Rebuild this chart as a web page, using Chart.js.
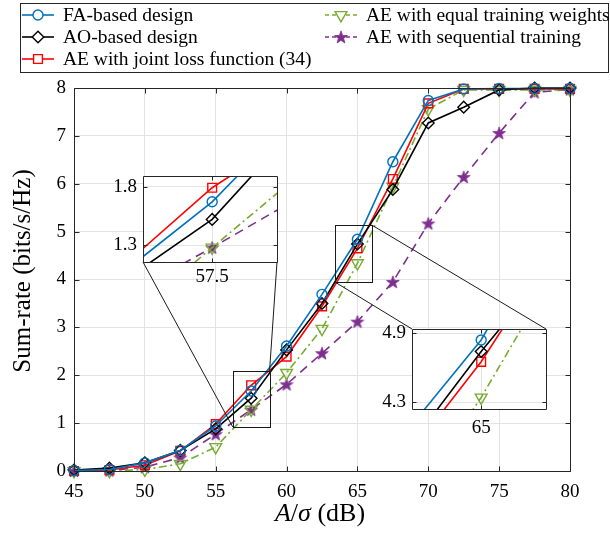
<!DOCTYPE html>
<html>
<head>
<meta charset="utf-8">
<script src="https://cdn.jsdelivr.net/npm/chart.js@4.4.3/dist/chart.umd.min.js"></script>
<style>
  html, body { margin: 0; padding: 0; background: #fff; }
  #wrap { position: relative; width: 610px; height: 535px; }
  #wrap canvas { position: absolute; left: 0; top: 0; }
</style>
</head>
<body>
<div id="wrap">
  <canvas id="main" width="610" height="535"></canvas>
  <canvas id="zoomLow" width="610" height="535"></canvas>
  <canvas id="zoomHigh" width="610" height="535"></canvas>
</div>
<script>
// A/sigma in dB
const snrDb = [45, 47.5, 50, 52.5, 55, 57.5, 60, 62.5, 65, 67.5, 70, 72.5, 75, 77.5, 80];

// sum-rate in bits/s/Hz
const faRate    = [0.01, 0.03, 0.17, 0.43, 0.94, 1.67, 2.61, 3.69, 4.84, 6.46, 7.74, 7.98, 7.99, 7.99, 7.99];
const aoRate    = [0.02, 0.06, 0.17, 0.43, 0.88, 1.52, 2.53, 3.50, 4.74, 5.88, 7.27, 7.60, 7.96, 8.00, 8.00];
const jointRate = [0.00, 0.02, 0.12, 0.42, 0.98, 1.79, 2.39, 3.44, 4.65, 6.10, 7.68, 7.98, 7.98, 7.98, 7.98];
const equalRate = [0.00, 0.00, 0.03, 0.15, 0.50, 1.28, 2.05, 2.97, 4.34, 5.94, 7.56, 7.96, 7.96, 7.96, 7.96];
const seqRate   = [0.00, 0.01, 0.08, 0.28, 0.77, 1.28, 1.81, 2.46, 3.12, 3.95, 5.17, 6.14, 7.06, 7.91, 7.97];

const seriesNames = [
  'FA-based design',
  'AO-based design',
  'AE with joint loss function (34)',
  'AE with equal training weights',
  'AE with sequential training'
];

const xTickStep = 5;
const yTickStep = 1;

// zoom windows: region marked on the main axes, and the range shown in each inset
const lowZoomMark  = { x0: 56.2, x1: 58.8, y0: 0.92, y1: 2.09 };
const highZoomMark = { x0: 63.4, x1: 66.0, y0: 3.95, y1: 5.14 };
const lowInsetX  = [55.9, 59.0];
const lowInsetY  = [1.157, 1.89];
const highInsetX = [63.4, 66.5];
const highInsetY = [4.24, 4.935];
const lowInsetXTicks  = [57.5];
const lowInsetYTicks  = [1.3, 1.8];
const highInsetXTicks = [65];
const highInsetYTicks = [4.3, 4.9];

const BLUE = '#0072BD', GREEN = '#77AC30', PURPLE = '#7E2F8E', RED = '#FF0000', BLACK = '#000000';
const SERIF = '"Liberation Serif", "DejaVu Serif", serif';
const AXIS = '#262626';

function starImage(color) {
  const c = document.createElement('canvas');
  c.width = 16; c.height = 16;
  const g = c.getContext('2d');
  g.beginPath();
  for (let i = 0; i < 10; i++) {
    const r = i % 2 ? 2.7 : 6.7;
    const a = -Math.PI / 2 + i * Math.PI / 5;
    const px = 8 + r * Math.cos(a), py = 8.6 + r * Math.sin(a);
    if (i) g.lineTo(px, py); else g.moveTo(px, py);
  }
  g.closePath();
  g.fillStyle = color;
  g.fill();
  g.strokeStyle = color;
  g.lineWidth = 0.8;
  g.stroke();
  return c;
}
const starMark = starImage(PURPLE);

function toPoints(vals) {
  return snrDb.map((x, i) => ({ x, y: vals[i] }));
}

function makeDatasets(clip) {
  const base = {
    borderWidth: 1.6,
    pointBorderWidth: 1.4,
    pointBackgroundColor: 'rgba(0,0,0,0)',
    tension: 0,
    clip: clip
  };
  return [
    Object.assign({}, base, { label: seriesNames[0], data: toPoints(faRate), borderColor: BLUE,
      pointBorderColor: BLUE, pointStyle: 'circle', pointRadius: 5 }),
    Object.assign({}, base, { label: seriesNames[1], data: toPoints(aoRate), borderColor: BLACK,
      pointBorderColor: BLACK, pointStyle: 'rectRot', pointRadius: 5.8 }),
    Object.assign({}, base, { label: seriesNames[2], data: toPoints(jointRate), borderColor: RED,
      pointBorderColor: RED, pointStyle: 'rect', pointRadius: 6.2 }),
    Object.assign({}, base, { label: seriesNames[3], data: toPoints(equalRate), borderColor: GREEN,
      pointBorderColor: GREEN, pointStyle: 'triangle', pointRotation: 180, pointRadius: 6.8,
      borderDash: [8, 3.5, 2, 3.5] }),
    Object.assign({}, base, { label: seriesNames[4], data: toPoints(seqRate), borderColor: PURPLE,
      pointBorderColor: PURPLE, pointStyle: starMark, pointRadius: 7,
      borderDash: [9, 6] })
  ];
}

// box around the axes with inward tick marks on every side
const framePlugin = {
  id: 'frame',
  beforeDraw(chart, args, opts) {
    if (!opts.fill) return;
    const { ctx, chartArea: a } = chart;
    ctx.save();
    ctx.fillStyle = '#fff';
    ctx.fillRect(a.left, a.top, a.right - a.left, a.bottom - a.top);
    ctx.restore();
  },
  afterDatasetsDraw(chart, args, opts) {
    const { ctx, chartArea: a, scales: { x, y } } = chart;
    const L = opts.tickLen || 5;
    const l = Math.round(a.left) + 0.5, r = Math.round(a.right) + 0.5;
    const t = Math.round(a.top) + 0.5, b = Math.round(a.bottom) + 0.5;
    ctx.save();
    ctx.strokeStyle = AXIS;
    ctx.lineWidth = 1;
    ctx.beginPath();
    x.ticks.forEach(tk => {
      const px = Math.round(x.getPixelForValue(tk.value)) + 0.5;
      ctx.moveTo(px, b); ctx.lineTo(px, b - L);
      ctx.moveTo(px, t); ctx.lineTo(px, t + L);
    });
    y.ticks.forEach(tk => {
      const py = Math.round(y.getPixelForValue(tk.value)) + 0.5;
      ctx.moveTo(l, py); ctx.lineTo(l + L, py);
      ctx.moveTo(r, py); ctx.lineTo(r - L, py);
    });
    ctx.rect(l, t, r - l, b - t);
    ctx.stroke();
    ctx.restore();
  }
};

// inset boxes in canvas pixels
const mainBox      = { l: 74, t: 88, r: 570, b: 471 };
const lowInsetBox  = { l: 143, t: 176, r: 277, b: 262 };
const highInsetBox = { l: 412, t: 329, r: 546, b: 409 };

const zoomMarkPlugin = {
  id: 'zoomMarks',
  afterDatasetsDraw(chart) {
    const { ctx, scales: { x, y } } = chart;
    const px = v => x.getPixelForValue(v), py = v => y.getPixelForValue(v);
    ctx.save();
    ctx.strokeStyle = '#1a1a1a';
    ctx.lineWidth = 1;
    [lowZoomMark, highZoomMark].forEach(m => {
      ctx.strokeRect(Math.round(px(m.x0)) + 0.5, Math.round(py(m.y1)) + 0.5,
        Math.round(px(m.x1) - px(m.x0)), Math.round(py(m.y0) - py(m.y1)));
    });
    ctx.beginPath();
    ctx.moveTo(px(lowZoomMark.x0), py(lowZoomMark.y0)); ctx.lineTo(lowInsetBox.l, lowInsetBox.b);
    ctx.moveTo(px(lowZoomMark.x1), py(lowZoomMark.y1)); ctx.lineTo(lowInsetBox.r, lowInsetBox.b);
    ctx.moveTo(px(highZoomMark.x1), py(highZoomMark.y1)); ctx.lineTo(highInsetBox.r, highInsetBox.t);
    ctx.moveTo(px(highZoomMark.x0), py(highZoomMark.y0)); ctx.lineTo(highInsetBox.l, highInsetBox.t);
    ctx.stroke();
    ctx.restore();
  }
};

function drawSample(ctx, ds, x0, yc) {
  ctx.save();
  ctx.strokeStyle = ds.borderColor;
  ctx.lineWidth = ds.borderWidth;
  ctx.setLineDash(ds.borderDash ? [4, 3] : []);
  ctx.beginPath();
  ctx.moveTo(x0, yc); ctx.lineTo(x0 + 32, yc);
  ctx.stroke();
  ctx.setLineDash([]);
  ctx.lineWidth = ds.pointBorderWidth;
  ctx.strokeStyle = ds.pointBorderColor;
  ctx.fillStyle = '#fff';
  Chart.helpers.drawPoint(ctx, {
    pointStyle: ds.pointStyle, radius: ds.pointRadius,
    rotation: ds.pointRotation || 0, borderWidth: ds.pointBorderWidth
  }, x0 + 16, yc);
  ctx.restore();
}

const legendPlugin = {
  id: 'boxLegend',
  afterDraw(chart) {
    const ctx = chart.ctx;
    const dss = chart.data.datasets;
    const cols = [22, 325];
    const rows = [15, 37, 59];
    ctx.save();
    ctx.fillStyle = '#fff';
    ctx.fillRect(20, 3, 589, 69);
    ctx.strokeStyle = AXIS;
    ctx.lineWidth = 1;
    ctx.strokeRect(20.5, 3.5, 588, 69);
    ctx.font = '19.5px ' + SERIF;
    ctx.textBaseline = 'middle';
    dss.forEach((ds, i) => {
      const col = i < 3 ? 0 : 1;
      const row = i < 3 ? i : i - 3;
      drawSample(ctx, ds, cols[col], rows[row]);
      ctx.fillStyle = '#000';
      ctx.fillText(ds.label, cols[col] + 41, rows[row] + 1);
    });
    ctx.restore();
  }
};

const titlePlugin = {
  id: 'axisTitles',
  afterDraw(chart) {
    const ctx = chart.ctx;
    ctx.save();
    ctx.fillStyle = '#000';
    ctx.textBaseline = 'middle';
    ctx.font = '25px ' + SERIF;
    ctx.save();
    ctx.translate(23, 271);
    ctx.rotate(-Math.PI / 2);
    ctx.textAlign = 'center';
    ctx.fillText('Sum-rate (bits/s/Hz)', 0, 0);
    ctx.restore();

    const parts = [['A', true], ['/', false], ['σ', true], [' (dB)', false]];
    let total = 0;
    parts.forEach(p => {
      ctx.font = (p[1] ? 'italic ' : '') + '26px ' + SERIF;
      total += ctx.measureText(p[0]).width;
    });
    let cx = 320 - total / 2;
    ctx.textAlign = 'left';
    parts.forEach(p => {
      ctx.font = (p[1] ? 'italic ' : '') + '26px ' + SERIF;
      ctx.fillText(p[0], cx, 514);
      cx += ctx.measureText(p[0]).width;
    });
    ctx.restore();
  }
};

const tickFont = { family: SERIF, size: 19 };

// each axis box is given the full margin beside the plot so its labels are not clipped
function axesFor(box, xCfg, yCfg) {
  return {
    x: Object.assign({
      type: 'linear',
      grid: { color: '#e3e3e3', drawTicks: false },
      border: { display: false },
      afterFit: s => { s.height = 535 - box.b; }
    }, xCfg),
    y: Object.assign({
      grid: { color: '#e3e3e3', drawTicks: false },
      border: { display: false },
      afterFit: s => { s.width = box.l; }
    }, yCfg)
  };
}

new Chart(document.getElementById('main'), {
  type: 'line',
  data: { datasets: makeDatasets(false) },
  options: {
    responsive: false,
    animation: false,
    events: [],
    layout: { padding: { left: 0, right: 610 - mainBox.r, top: mainBox.t, bottom: 0 } },
    scales: axesFor(mainBox,
      { min: 45, max: 80, ticks: { stepSize: xTickStep, font: tickFont, color: '#000', padding: 10, maxRotation: 0 } },
      { min: 0, max: 8, ticks: { stepSize: yTickStep, font: tickFont, color: '#000', padding: 8 } }),
    plugins: { legend: { display: false }, tooltip: { enabled: false }, frame: { tickLen: 5 } }
  },
  plugins: [framePlugin, zoomMarkPlugin, legendPlugin, titlePlugin]
});

function makeInset(id, box, xr, yr, xt, yt, labelGap) {
  new Chart(document.getElementById(id), {
    type: 'line',
    data: { datasets: makeDatasets(0) },
    options: {
      responsive: false,
      animation: false,
      events: [],
      layout: { padding: { left: 0, right: 610 - box.r, top: box.t, bottom: 0 } },
      scales: axesFor(box,
        {
          min: xr[0], max: xr[1],
          afterBuildTicks: s => { s.ticks = xt.map(v => ({ value: v })); },
          ticks: { font: tickFont, color: '#000', padding: labelGap, maxRotation: 0, autoSkip: false, callback: v => String(v) }
        },
        {
          min: yr[0], max: yr[1],
          afterBuildTicks: s => { s.ticks = yt.map(v => ({ value: v })); },
          ticks: { font: tickFont, color: '#000', padding: 6, autoSkip: false, callback: v => String(v) }
        }),
      plugins: { legend: { display: false }, tooltip: { enabled: false }, frame: { tickLen: 4, fill: true } }
    },
    plugins: [framePlugin]
  });
}

makeInset('zoomLow', lowInsetBox, lowInsetX, lowInsetY, lowInsetXTicks, lowInsetYTicks, 4);
makeInset('zoomHigh', highInsetBox, highInsetX, highInsetY, highInsetXTicks, highInsetYTicks, 8);
</script>
</body>
</html>
